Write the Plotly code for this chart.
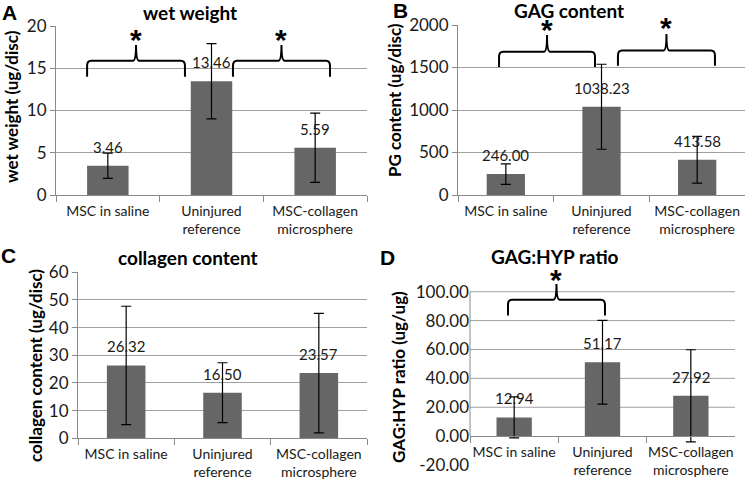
import plotly.graph_objects as go

# -- Data --
CATEGORIES = ["MSC in saline", "Uninjured<br>reference", "MSC-collagen<br>microsphere"]

WET_WEIGHT = [3.46, 13.46, 5.59]
WET_WEIGHT_ERR = [1.50, 4.45, 4.10]

GAG_CONTENT = [246.00, 1038.23, 413.58]
GAG_CONTENT_ERR = [120, 500, 275]

COLLAGEN_CONTENT = [26.32, 16.50, 23.57]
COLLAGEN_CONTENT_ERR = [21.4, 10.8, 21.6]

GAG_HYP_RATIO = [12.94, 51.17, 27.92]
GAG_HYP_RATIO_ERR = [14.2, 29.0, 31.9]

# -- Styling --
W, H = 750, 487
FONT = "Lato"
BAR = "#666666"
GRID = "#a0a0a0"
AXIS = "#8a8a8a"
TEXT = "#1a1a1a"


def px(x):
    return x / W


def py(y):
    return 1 - y / H


# plot boxes in pixels: left, right, top (range max), bottom (range min)
PANELS = [
    dict(letter="A", title="wet weight", ytitle="wet weight (ug/disc)",
         y=WET_WEIGHT, err=WET_WEIGHT_ERR, yrange=[0, 20], dtick=5, fmt="d",
         box=(56, 367, 26, 195), title_xy=(190, 12), letter_xy=(9, 12),
         ytitle_xy=(12, 107),
         # brace: x left, x right (category units), bottom, bar, tip, star (data units)
         braces=[(-0.20, 0.744, 14.0, 15.9, 17.75, 18.9),
                 (1.207, 2.143, 14.0, 15.9, 17.75, 18.9)]),
    dict(letter="B", title="GAG content", ytitle="PG content (ug/disc)",
         y=GAG_CONTENT, err=GAG_CONTENT_ERR, yrange=[0, 2000], dtick=500, fmt="d",
         box=(458, 745, 25, 195), title_xy=(569, 11), letter_xy=(400, 11),
         ytitle_xy=(395, 100),
         braces=[(-0.071, 0.932, 1506, 1686, 1882, 1990),
                 (1.172, 2.186, 1520, 1700, 1895, 2020)]),
    dict(letter="C", title="collagen content", ytitle="collagen content (ug/disc)",
         y=COLLAGEN_CONTENT, err=COLLAGEN_CONTENT_ERR, yrange=[0, 60], dtick=10, fmt="d",
         box=(78, 367, 272.3, 438.3), title_xy=(188, 257), letter_xy=(8, 255),
         ytitle_xy=(35, 366), braces=[]),
    dict(letter="D", title="GAG:HYP ratio", ytitle="GAG:HYP ratio (ug/ug)",
         y=GAG_HYP_RATIO, err=GAG_HYP_RATIO_ERR, yrange=[-20, 110], dtick=20, fmt=".2f",
         box=(470, 735, 277.3, 465), title_xy=(555, 256), letter_xy=(387, 257),
         ytitle_xy=(398, 377), ytop=100,
         braces=[(-0.070, 1.028, 83.6, 94.5, 105.3, 111.1)]),
]


def brace_path(xl, xr, yb, yh, yt, rx, ry, tx):
    xm = (xl + xr) / 2
    return (f"M{xl},{yb} L{xl},{yh - ry} Q{xl},{yh} {xl + rx},{yh} "
            f"L{xm - tx},{yh} Q{xm},{yh} {xm},{yt} Q{xm},{yh} {xm + tx},{yh} "
            f"L{xr - rx},{yh} Q{xr},{yh} {xr},{yh - ry} L{xr},{yb}")


fig = go.Figure()
shapes, annotations = [], []

for i, p in enumerate(PANELS, start=1):
    sfx = "" if i == 1 else str(i)
    xref, yref = "x" + sfx, "y" + sfx
    x0, x1, y0, y1 = p["box"]
    r0, r1 = p["yrange"]
    ytop = p.get("ytop", r1)
    ydom = [py(y1), py(y0)]
    px_per_unit = (y1 - y0) / (r1 - r0)
    px_per_cat = (x1 - x0) / len(CATEGORIES)

    def to_paper_y(v):
        return ydom[0] + (v - r0) / (r1 - r0) * (ydom[1] - ydom[0])

    fig.add_trace(go.Bar(
        x=CATEGORIES, y=p["y"], width=0.4, marker_color=BAR, marker_line_width=0,
        error_y=dict(type="data", array=p["err"], color="black", thickness=1.2, width=5),
        xaxis=xref, yaxis=yref, showlegend=False,
        hovertemplate="%{x}: %{y:.2f}<extra></extra>",
    ))

    tickvals = list(range(r0, ytop + 1, p["dtick"]))
    ticktext = [format(v, p["fmt"]) for v in tickvals]
    free_axis = r0 < 0

    xaxis = dict(
        domain=[px(x0), px(x1)], type="category", showline=True, linecolor=AXIS,
        linewidth=1, ticks="outside", tickson="boundaries", ticklen=6,
        tickcolor=AXIS, showgrid=False, tickangle=0, automargin=False,
        ticklabelstandoff=3, tickfont=dict(size=14, color=TEXT), fixedrange=True,
    )
    yaxis = dict(
        domain=ydom, range=[r0, r1], tickvals=tickvals, ticktext=ticktext,
        tickfont=dict(size=17, color=TEXT), zeroline=False, fixedrange=True,
        anchor=xref, automargin=False,
    )
    if free_axis:
        # category axis crosses at zero, as in the spreadsheet chart
        xaxis.update(anchor="free", position=to_paper_y(0))
        yaxis.update(showgrid=False, showline=False, ticks="")
        for v in tickvals:
            if v > 0:
                shapes.append(dict(type="line", xref=f"{xref} domain", yref=yref,
                                   x0=0, x1=1, y0=v, y1=v,
                                   line=dict(color=GRID, width=1), layer="below"))
        shapes.append(dict(type="line", xref=f"{xref} domain", yref=yref,
                           x0=0, x1=0, y0=0, y1=ytop, line=dict(color=AXIS, width=1)))
    else:
        xaxis.update(anchor=yref)
        yaxis.update(showgrid=True, gridcolor=GRID, gridwidth=1, showline=True,
                     linecolor=AXIS, ticks="outside", ticklen=5, tickcolor=AXIS)
    fig.update_layout({"xaxis" + sfx: xaxis, "yaxis" + sfx: yaxis})

    # value labels above each bar
    for c, v in zip(CATEGORIES, p["y"]):
        annotations.append(dict(x=c, y=v, xref=xref, yref=yref, text=f"{v:.2f}",
                                showarrow=False, yanchor="middle", yshift=19,
                                font=dict(size=15, color=TEXT, family=FONT)))

    # significance braces and stars
    for xl, xr, yb, yh, yt, ys in p["braces"]:
        rx, ry, tx = 4 / px_per_cat, 5 / px_per_unit, 3 / px_per_cat
        shapes.append(dict(type="path", xref=xref, yref=yref,
                           path=brace_path(xl, xr, yb, yh, yt, rx, ry, tx),
                           line=dict(color="black", width=2)))
        annotations.append(dict(x=(xl + xr) / 2, y=to_paper_y(ys), xref=xref,
                                yref="paper", text="<b>*</b>",
                                showarrow=False, yanchor="middle", yshift=-4,
                                font=dict(size=30, color="black",
                                          family="Liberation Sans")))

    tx_, ty_ = p["title_xy"]
    annotations.append(dict(x=px(tx_), y=py(ty_), xref="paper", yref="paper",
                            text=f"<b>{p['title']}</b>", showarrow=False,
                            xanchor="center", yanchor="middle",
                            font=dict(size=19, color="black", family=FONT)))
    lx, ly = p["letter_xy"]
    annotations.append(dict(x=px(lx), y=py(ly), xref="paper", yref="paper",
                            text=f"<b>{p['letter']}</b>", showarrow=False,
                            xanchor="center", yanchor="middle",
                            font=dict(size=21, color="black", family="Liberation Sans")))
    ax_, ay_ = p["ytitle_xy"]
    annotations.append(dict(x=px(ax_), y=py(ay_), xref="paper", yref="paper",
                            text=f"<b>{p['ytitle']}</b>", showarrow=False, textangle=-90,
                            xanchor="center", yanchor="middle",
                            font=dict(size=17, color="black", family=FONT)))

fig.update_layout(
    template="none",
    width=W, height=H, margin=dict(l=0, r=0, t=0, b=0, autoexpand=False),
    paper_bgcolor="white", plot_bgcolor="rgba(0,0,0,0)",
    font=dict(family=FONT, color=TEXT),
    bargap=0.6, shapes=shapes, annotations=annotations,
)

# the page's default body margin would push the 750x487 figure off the window
fig.write_html("out.html", config={"displayModeBar": False},
               post_script="document.body.style.margin='0';document.body.style.padding='0';")
